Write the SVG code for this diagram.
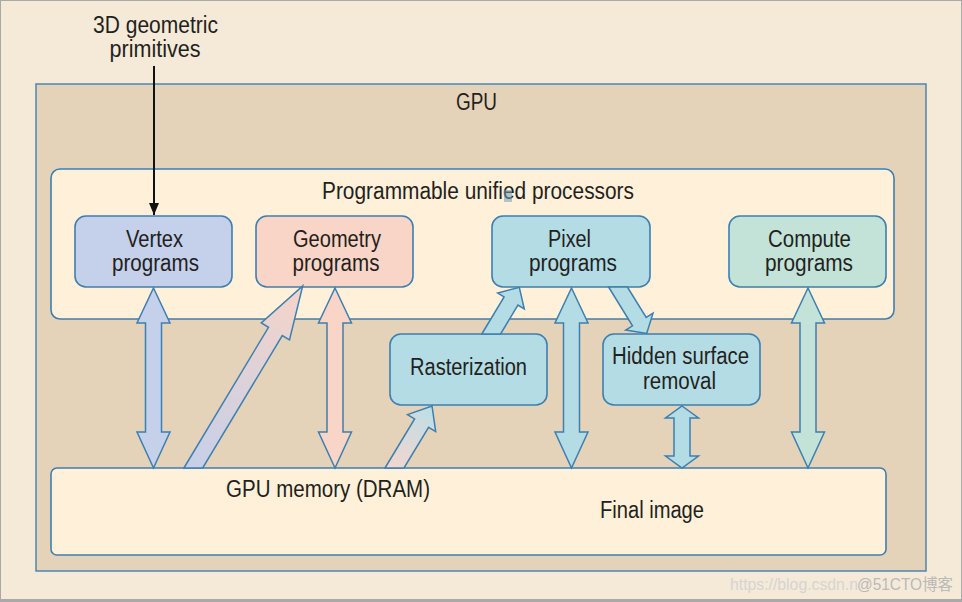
<svg xmlns="http://www.w3.org/2000/svg" width="962" height="602" viewBox="0 0 962 602">
<defs>
<style>
.t{font-family:"Liberation Sans Narrow","Liberation Sans",Arial,sans-serif;font-size:23.5px;fill:#231f20;text-anchor:middle}
.box{stroke:#3c7fb1;stroke-width:1.6}
.arr{stroke:#3c7fb1;stroke-width:1.5;stroke-linejoin:miter}
.wm{font-family:"Liberation Sans Narrow","Liberation Sans","Noto Sans CJK SC",sans-serif;font-size:16px}
</style>
<linearGradient id="gGeo" gradientUnits="userSpaceOnUse" x1="193" y1="468" x2="303" y2="286">
<stop offset="0" stop-color="#c6cfe8"/><stop offset="1" stop-color="#f6d4c8"/>
</linearGradient>
<linearGradient id="gRas" gradientUnits="userSpaceOnUse" x1="394" y1="468" x2="432" y2="406">
<stop offset="0" stop-color="#f2d6cf"/><stop offset="1" stop-color="#bcdfe6"/>
</linearGradient>
<marker id="blk" markerWidth="12" markerHeight="10" refX="12" refY="5" orient="auto" markerUnits="userSpaceOnUse" viewBox="0 0 12 10">
<path d="M0,0 L12,5 L0,10 Z" fill="#111"/>
</marker>
</defs>

<rect x="0" y="0" width="962" height="602" fill="#f5ead8"/>
<rect x="0.5" y="0.5" width="961" height="600" fill="none" stroke="#a9a9a9" stroke-width="1"/>
<line x1="0" y1="600.5" x2="962" y2="600.5" stroke="#a9a9a9" stroke-width="3"/>

<g id="gpu">
<rect x="36" y="84" width="890" height="487" fill="#e4d3b9" stroke="#4a86b4" stroke-width="1.5"/>
<text class="t" x="476.5" y="110" textLength="41" lengthAdjust="spacingAndGlyphs">GPU</text>
</g>

<g id="processors">
<rect x="51" y="169" width="843" height="150" rx="9" fill="#fff1d9" class="box"/>
<text class="t" x="478" y="199" textLength="312" lengthAdjust="spacingAndGlyphs">Programmable unified processors</text>
<rect x="504" y="190" width="8" height="12" fill="#6f9fb8" opacity="0.55"/>
</g>

<g id="memory">
<rect x="51" y="468" width="835" height="87" rx="6" fill="#fff1d9" class="box"/>
<text class="t" x="328" y="497" textLength="204" lengthAdjust="spacingAndGlyphs">GPU memory (DRAM)</text>
<text class="t" x="652" y="518" textLength="104" lengthAdjust="spacingAndGlyphs">Final image</text>
</g>

<g id="vertex">
<rect x="75" y="216" width="157" height="71" rx="11" fill="#c5d0ea" class="box"/>
<text class="t" x="154.5" y="247" textLength="57" lengthAdjust="spacingAndGlyphs">Vertex</text>
<text class="t" x="155.5" y="271" textLength="87" lengthAdjust="spacingAndGlyphs">programs</text>
</g>

<g id="geometry">
<rect x="256" y="216" width="157" height="71" rx="11" fill="#f8d5c7" class="box"/>
<text class="t" x="337" y="247" textLength="88" lengthAdjust="spacingAndGlyphs">Geometry</text>
<text class="t" x="336" y="271" textLength="87" lengthAdjust="spacingAndGlyphs">programs</text>
</g>

<g id="pixel">
<rect x="492" y="216" width="158" height="71" rx="11" fill="#b3dce5" class="box"/>
<text class="t" x="569.5" y="247" textLength="43" lengthAdjust="spacingAndGlyphs">Pixel</text>
<text class="t" x="573" y="271" textLength="88" lengthAdjust="spacingAndGlyphs">programs</text>
</g>

<g id="compute">
<rect x="729" y="216" width="157" height="71" rx="11" fill="#c4e3d8" class="box"/>
<text class="t" x="809.5" y="247" textLength="83" lengthAdjust="spacingAndGlyphs">Compute</text>
<text class="t" x="809" y="271" textLength="88" lengthAdjust="spacingAndGlyphs">programs</text>
</g>

<g id="rasterization">
<rect x="390" y="334" width="157" height="71" rx="11" fill="#b3dce5" class="box"/>
<text class="t" x="468.5" y="375" textLength="117" lengthAdjust="spacingAndGlyphs">Rasterization</text>
</g>

<g id="hidden">
<rect x="603" y="334" width="157" height="71" rx="11" fill="#b3dce5" class="box"/>
<text class="t" x="680.5" y="364" textLength="137" lengthAdjust="spacingAndGlyphs">Hidden surface</text>
<text class="t" x="679.5" y="389" textLength="73" lengthAdjust="spacingAndGlyphs">removal</text>
</g>

<g id="input">
<text class="t" x="155.5" y="33" textLength="125" lengthAdjust="spacingAndGlyphs">3D geometric</text>
<text class="t" x="155" y="57" textLength="91" lengthAdjust="spacingAndGlyphs">primitives</text>
</g>

<g id="connectors">
<line x1="154" y1="66" x2="154" y2="215" stroke="#111" stroke-width="2" marker-end="url(#blk)"/>
<!-- vertex <-> memory -->
<path class="arr" fill="#c5d0ea" d="M153.5,288 L170,323 L161.5,323 L161.5,432 L170,432 L153.5,468 L137,432 L145.5,432 L145.5,323 L137,323 Z"/>
<!-- memory -> geometry -->
<path class="arr" fill="url(#gGeo)" d="M183.9,468 L268.5,327.3 L261.3,322.9 L302.7,286 L289.5,339.9 L282.3,335.5 L202.7,468 Z"/>
<!-- geometry <-> memory -->
<path class="arr" fill="#f8d5c7" d="M335,288 L351.5,323 L343,323 L343,432 L351.5,432 L335,468 L318.5,432 L327,432 L327,323 L318.5,323 Z"/>
<!-- memory -> rasterization -->
<path class="arr" fill="url(#gRas)" d="M385,468 L414.6,418.9 L407.5,414.6 L432,406 L435.7,431.6 L428.6,427.3 L404,468 Z"/>
<!-- rasterization -> pixel -->
<path class="arr" fill="#b3dce5" d="M481.8,334 L504.1,296.9 L497.7,293 L519.3,287.3 L524.3,309 L517.9,305.1 L500.6,334 Z"/>
<!-- pixel <-> memory -->
<path class="arr" fill="#b3dce5" d="M571.5,288 L588,323 L579.5,323 L579.5,432 L588,432 L571.5,468 L555,432 L563.5,432 L563.5,323 L555,323 Z"/>
<!-- pixel -> hidden surface removal -->
<path class="arr" fill="#b3dce5" d="M608.6,287 L632.5,325.8 L625.7,330 L646.7,333.5 L653,313.2 L646.2,317.4 L627.4,287 Z"/>
<!-- hidden <-> memory -->
<path class="arr" fill="#b3dce5" d="M682,406 L698.5,418 L690,418 L690,456 L698.5,456 L682,468 L665.5,456 L674,456 L674,418 L665.5,418 Z"/>
<!-- compute <-> memory -->
<path class="arr" fill="#c4e3d8" d="M808,288 L824.5,323 L816,323 L816,432 L824.5,432 L808,468 L791.5,432 L800,432 L800,323 L791.5,323 Z"/>
</g>

<g id="watermark">
<text class="wm" x="730" y="590" fill="#d4d4d4" textLength="128" lengthAdjust="spacingAndGlyphs">https://blog.csdn.n</text>
<text class="wm" x="857" y="590" fill="#b9b9b9" textLength="96" lengthAdjust="spacingAndGlyphs">@51CTO博客</text>
</g>
</svg>
